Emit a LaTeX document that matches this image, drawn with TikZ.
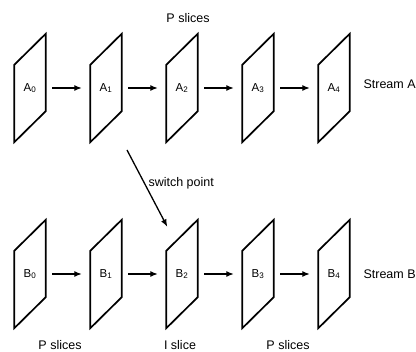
\documentclass[tikz,border=0pt]{standalone}
\usepackage{fontspec}
\setmainfont{Liberation Sans}
\usetikzlibrary{arrows.meta}

\begin{document}
\begin{tikzpicture}[
    x=1pt, y=-1pt,
    >={Latex[length=7.5pt,width=6pt]},
    slice/.style={rectangle, minimum width=31pt, minimum height=108pt, inner sep=0pt, font=\fontsize{11.5}{13}\selectfont},
    frame/.style={line width=1.7pt, line join=miter},
    link/.style={->, line width=1.3pt, shorten <=6.5pt, shorten >=8.5pt},
    lbl/.style={font=\fontsize{12.5}{14}\selectfont}
]
\useasboundingbox (0,0) rectangle (416,352);

% Stream A
\foreach \i in {0,...,4}
  \node[slice] (a\i) at (30+76*\i,88) {A\textsubscript{\i}};

% Stream B
\foreach \i in {0,...,4}
  \node[slice] (b\i) at (30+76*\i,274) {B\textsubscript{\i}};

% slanted slice frames
\foreach \n in {a0,a1,a2,a3,a4,b0,b1,b2,b3,b4}
  \draw[frame] (\n.south west) -- ([yshift=-31pt]\n.north west) -- (\n.north east)
    -- ([yshift=31pt]\n.south east) -- cycle;

% slice to slice
\foreach \i [count=\j] in {0,...,3} {
  \draw[link] (a\i) -- (a\j);
  \draw[link] (b\i) -- (b\j);
}

% switch from A to B
\coordinate (sw) at (127,150);
\draw[->, line width=1.3pt] (sw) -- ([xshift=1pt,yshift=-7pt]b2.north west);
\node[lbl, anchor=west] (swlbl) at (145,183) {switch point};

% labels
\node[lbl] (ptop) at (188,18) {P slices};
\node[lbl, anchor=west] (sa) at (360,84) {Stream A};
\node[lbl, anchor=west] (sb) at (360,274) {Stream B};
\node[lbl] (pleft) at (60,345) {P slices};
\node[lbl] (imid) at (180,345) {I slice};
\node[lbl] (pright) at (288,345) {P slices};
\end{tikzpicture}
\end{document}
